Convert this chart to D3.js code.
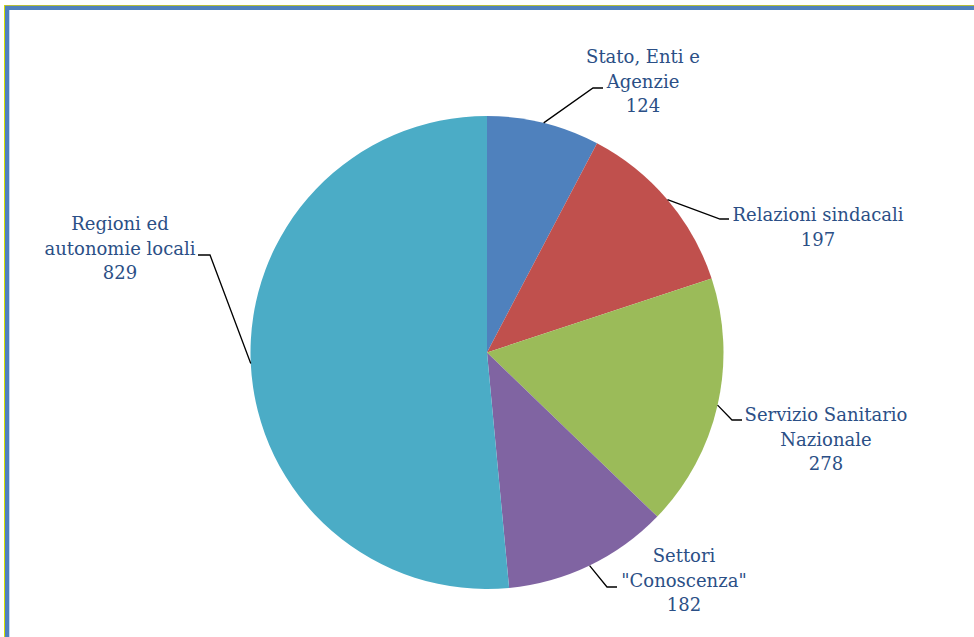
<!DOCTYPE html>
<html lang="it">
<head>
  <meta charset="UTF-8">
  <title>Pie chart</title>
  <style>
    * { margin: 0; padding: 0; box-sizing: border-box; }
    body { background: #fff; }
    svg { display: block; }
    .lbl { font-family: "DejaVu Serif", serif; font-size: 18px; }
  </style>
</head>
<body>
  <div id="chart"></div>
  <script src="https://d3js.org/d3.v7.min.js"></script>
  <script>
// data
var categories = ["Stato, Enti e Agenzie", "Relazioni sindacali", "Servizio Sanitario Nazionale", "Settori \"Conoscenza\"", "Regioni ed autonomie locali"];
var values = [124, 197, 278, 182, 829];
var labelLines = [
  ["Stato, Enti e", "Agenzie"],
  ["Relazioni sindacali"],
  ["Servizio Sanitario", "Nazionale"],
  ["Settori", "\"Conoscenza\""],
  ["Regioni ed", "autonomie locali"]
];
var colors = ["#4F81BD", "#C0504D", "#9BBB59", "#8064A2", "#4BACC6"];

// label placement (layout only)
var labelPos = [
  {cx: 643, y: 63, elbow: [593, 88], end: [603, 88]},
  {cx: 818, y: 221, elbow: [720, 219], end: [729, 219]},
  {cx: 826, y: 421, elbow: [732, 420], end: [742, 420]},
  {cx: 684, y: 562, elbow: [607, 587], end: [617, 587]},
  {cx: 120, y: 230, elbow: [210, 255], end: [198, 255]}
];

var W = 974, H = 637;
var cx = 487, cy = 352.5, radius = 236.5;
var lineH = 24.5;

var svg = d3.select("#chart").append("svg")
  .attr("width", W).attr("height", H);

// frame
svg.append("rect").attr("x", 4).attr("y", 5).attr("width", W).attr("height", 1).attr("fill", "#B5BD3A");
svg.append("rect").attr("x", 4).attr("y", 5).attr("width", 1).attr("height", H).attr("fill", "#D4E000");
svg.append("rect").attr("x", 5).attr("y", 6).attr("width", W).attr("height", 4).attr("fill", "#4F81BD");
svg.append("rect").attr("x", 5).attr("y", 6).attr("width", 4).attr("height", H).attr("fill", "#4F81BD");
svg.append("rect").attr("x", 9).attr("y", 10).attr("width", 1).attr("height", H).attr("fill", "#C6D9F1");

var pie = d3.pie().sort(null).value(function(d) { return d; });
var arcs = pie(values);

var arc = d3.arc().innerRadius(0).outerRadius(radius);

var g = svg.append("g").attr("transform", "translate(" + cx + "," + cy + ")");

g.selectAll("path.slice")
  .data(arcs)
  .enter()
  .append("path")
    .attr("class", "slice")
    .attr("d", arc)
    .attr("fill", function(d, i) { return colors[i]; });

// leader lines
arcs.forEach(function(d, i) {
  var a = (d.startAngle + d.endAngle) / 2;
  var sx = cx + radius * Math.sin(a);
  var sy = cy - radius * Math.cos(a);
  var p = labelPos[i];
  svg.append("polyline")
    .attr("points", [[sx, sy], p.elbow, p.end].map(function(q) { return q.join(","); }).join(" "))
    .attr("fill", "none")
    .attr("stroke", "#000")
    .attr("stroke-width", 1.3);
});

// labels
arcs.forEach(function(d, i) {
  var p = labelPos[i];
  var lines = labelLines[i].concat([String(values[i])]);
  var t = svg.append("text")
    .attr("class", "lbl")
    .attr("text-anchor", "middle")
    .attr("fill", "#2B4F86");
  lines.forEach(function(s, k) {
    t.append("tspan").attr("x", p.cx).attr("y", p.y + k * lineH).text(s);
  });
});
  </script>
</body>
</html>
